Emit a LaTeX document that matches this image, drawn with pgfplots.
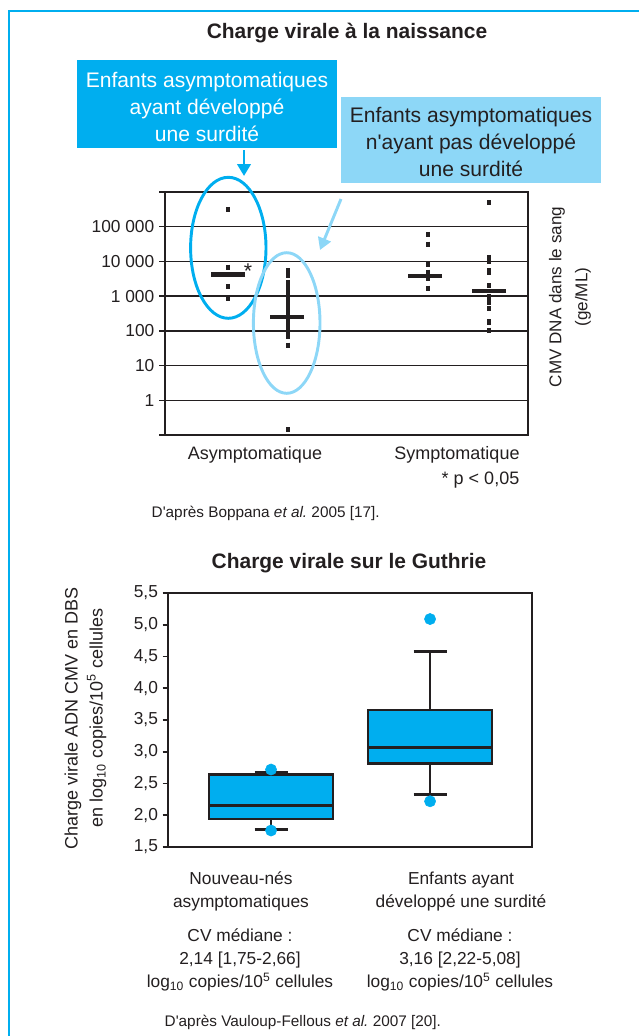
\documentclass[border=0pt]{standalone}
\usepackage{fontspec}
\setmainfont{Liberation Sans}
\usepackage{pgfplots}
\pgfplotsset{compat=1.18}
\usepgfplotslibrary{statistics}
\usetikzlibrary{arrows.meta}
\definecolor{cy}{HTML}{00AEEF}
\definecolor{lcy}{HTML}{8DD7F7}
\definecolor{dk}{HTML}{231F20}
\newcommand{\fs}[2]{\fontsize{#1}{#2}\selectfont}
\begin{document}
\begin{tikzpicture}
\path[use as bounding box] (0pt,0pt) rectangle (479.25pt,-777pt);
% ---------- top chart ----------
\begin{axis}[
  at={(123.75pt,-326.25pt)}, anchor=south west,
  scale only axis, width=272.25pt, height=182.25pt,
  xmin=165, xmax=528, ymode=log, ymin=0.1, ymax=1e6,
  xtick=\empty,
  ytick={0.1,1,10,100,1000,10000,100000,1000000},
  yticklabels={,1,10,100,{1 000},{10 000},{100 000},},
  minor ytick={}, yminorticks=false,
  ymajorgrids, grid style={dk, line width=1.1pt},
  axis line style={dk, line width=1.8pt},
  tick style={dk, line width=1.1pt},
  ytick pos=left, tick align=outside, major tick length=4.5pt,
  yticklabel style={font=\fs{13}{15}, text=dk},
  clip=false,
]
\addplot[only marks, mark=|, mark size=1.9pt, color=dk, line width=2.6pt, every mark/.append style={line width=2.6pt}] coordinates {
(228,316000)(228,6800)(228,1900)(228,850)
(288,5400)(288,3900)(288,2500)(288,1800)(288,1300)(288,940)(288,670)(288,480)(288,350)(288,250)(288,180)(288,130)(288,93)(288,68)(288,39)(288,0.14)
(428,60000)(428,31600)(428,8400)(428,4900)(428,3150)(428,1700)
(489,490000)(489,13000)(489,10000)(489,5400)(489,4900)(489,2000)(489,980)(489,680)(489,436)(489,180)(489,105)
};
\addplot[only marks, mark=-, mark size=12.75pt, color=dk, line width=3.2pt, every mark/.append style={line width=3.2pt}] coordinates {
(228,4170)(287,251)(425,3900)(489,1380)
};
\end{axis}
% ---------- bottom chart ----------
\begin{axis}[
  at={(126pt,-635.25pt)}, anchor=south west,
  scale only axis, width=273pt, height=190.5pt,
  xmin=0, xmax=2.289, ymin=1.5, ymax=5.5,
  xtick=\empty,
  ytick={1.5,2,2.5,3,3.5,4,4.5,5,5.5},
  yticklabels={{1,5},{2,0},{2,5},{3,0},{3,5},{4,0},{4,5},{5,0},{5,5}},
  ytick pos=left, tick align=outside, major tick length=4pt,
  axis line style={dk, line width=1.9pt},
  tick style={dk, line width=1.3pt},
  yticklabel style={font=\fs{13}{15}, text=dk},
  clip=false,
  boxplot/draw direction=y,
]
\addplot[boxplot prepared={draw position=0.648, lower whisker=1.78, lower quartile=1.94, median=2.15, upper quartile=2.64, upper whisker=2.68, box extend=0.78, whisker extend=0.2075}, fill=cy, draw=dk, line width=2pt] coordinates {};
\addplot[boxplot prepared={draw position=1.648, lower whisker=2.33, lower quartile=2.82, median=3.07, upper quartile=3.66, upper whisker=4.58, box extend=0.78, whisker extend=0.2075}, fill=cy, draw=dk, line width=2pt] coordinates {};
\addplot[only marks, mark=*, mark size=4.2pt, color=cy, mark options={draw=cy, fill=cy}] coordinates {(0.648,2.72)(0.648,1.76)(1.648,5.09)(1.648,2.22)};
\end{axis}
% ---------- annotations ----------
\begin{scope}[x=0.75pt,y=-0.75pt]
\draw[cy, line width=2.2pt] (9,1040) -- (9,11) -- (642,11);
\node[font=\bfseries\fs{15.7}{18}, text=dk] at (347,33) {Charge virale à la naissance};
\fill[cy] (77,60) rectangle (337,148);
\node[text=white, align=center, font=\fs{15.8}{20}] at (207,107) {Enfants asymptomatiques\\ayant développé\\une surdité};
\fill[lcy] (341,97) rectangle (601,183);
\node[text=dk, align=center, font=\fs{15.8}{20}] at (471,142) {Enfants asymptomatiques\\n\textquotesingle ayant pas développé\\une surdité};
\draw[cy, line width=2.2pt, -{Triangle[length=9pt,width=10pt]}] (244,150) -- (244,176);
\draw[lcy, line width=2.2pt, -{Triangle[length=9pt,width=10pt]}] (341,199) -- (320,250);
\draw[cy, line width=2.2pt] (228.3,247.8) ellipse [x radius=37.7, y radius=70.5];
\draw[lcy, line width=2.2pt] (286.7,323) ellipse [x radius=33.3, y radius=70.3];
\node[font=\fs{16}{18}, text=dk] at (248,271) {*};
\node[rotate=90, align=center, font=\fs{12.8}{19.5}, text=dk] at (570,297) {CMV DNA dans le sang\\(ge/ML)};
\node[font=\fs{13.5}{15}, text=dk] at (255,455) {Asymptomatique};
\node[font=\fs{13.5}{15}, text=dk] at (457,455) {Symptomatique};
\node[font=\fs{13.5}{15}, text=dk, anchor=east] at (524,480) {* p < 0,05};
\node[font=\fs{11.5}{14}, text=dk, anchor=west] at (147,513) {D\textquotesingle après Boppana \textit{et al.}\ 2005 [17].};
% bottom
\node[font=\bfseries\fs{15.7}{18}, text=dk] at (349,563) {Charge virale sur le Guthrie};
\node[rotate=90, align=center, font=\fs{13.5}{18.75}, text=dk] at (85.5,718) {Charge virale ADN CMV en DBS\\en log\textsubscript{10} copies/10\textsuperscript{5} cellules};
\node[align=center, font=\fs{13}{17.25}, text=dk] at (241,891.5) {Nouveau-nés\\asymptomatiques};
\node[align=center, font=\fs{13}{17.25}, text=dk] at (461,891.5) {Enfants ayant\\développé une surdité};
\node[align=center, font=\fs{13}{17.25}, text=dk] at (240,960) {CV médiane :\\2,14 [1,75-2,66]\\log\textsubscript{10} copies/10\textsuperscript{5} cellules};
\node[align=center, font=\fs{13}{17.25}, text=dk] at (460,960) {CV médiane :\\3,16 [2,22-5,08]\\log\textsubscript{10} copies/10\textsuperscript{5} cellules};
\node[font=\fs{11.5}{14}, text=dk, anchor=west] at (160,1022) {D\textquotesingle après Vauloup-Fellous \textit{et al.}\ 2007 [20].};
\end{scope}
\end{tikzpicture}
\end{document}
